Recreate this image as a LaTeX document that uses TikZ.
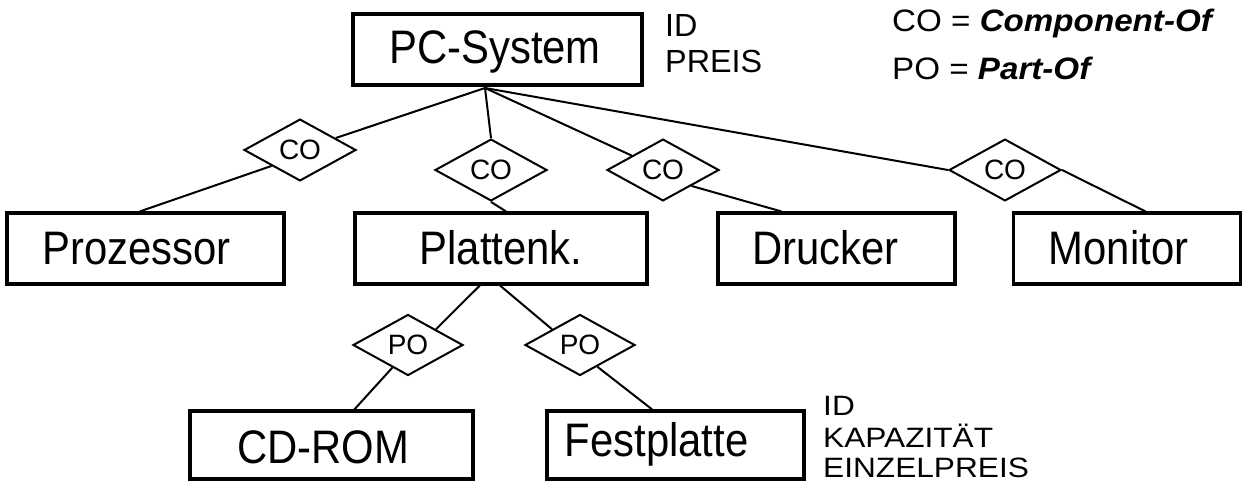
\documentclass[tikz,border=0pt]{standalone}
\usepackage{fontspec}
\setmainfont{Liberation Sans}
\usetikzlibrary{shapes.geometric,calc}
\newcommand\sx[2]{\scalebox{#1}[1]{#2}}
\begin{document}
\begin{tikzpicture}[x=1pt,y=-1pt,
  box/.style={draw, line width=3.2pt, inner sep=0pt, minimum height=71pt},
  big/.style={font=\fontsize{47}{56}\selectfont, anchor=base, inner sep=0pt},
  rel/.style={draw, diamond, line width=2pt, inner sep=0pt, minimum width=112pt, minimum height=57pt, font=\fontsize{28}{32}\selectfont},
  conn/.style={line width=2pt},
  attrtop/.style={font=\fontsize{32}{36}\selectfont, anchor=base west, inner sep=0pt},
  attrbot/.style={font=\fontsize{28}{32}\selectfont, anchor=base west, inner sep=0pt},
  leg/.style={font=\fontsize{31}{35}\selectfont, anchor=base west, inner sep=0pt}]
\useasboundingbox (0,0) rectangle (1248,481);
% boxes
\node[box, minimum width=289pt] (pc) at (497.5,49.5) {};
\node[big] (pct) at (495,64) {\sx{0.89}{PC-System}};
\node[box, minimum width=277pt] (proz) at (145.5,248.5) {};
\node[big] (prozt) at (136.5,265) {\sx{0.89}{Prozessor}};
\node[box, minimum width=292pt] (plat) at (501,248.5) {};
\node[big] (platt) at (501,265) {\sx{0.89}{Plattenk.}};
\node[box, minimum width=237pt] (druck) at (836.5,248.5) {};
\node[big] (druckt) at (825.5,265) {\sx{0.89}{Drucker}};
\node[box, minimum width=227pt] (mon) at (1127,248.5) {};
\node[big] (mont) at (1118.5,265) {\sx{0.89}{Monitor}};
\node[box, minimum width=283pt, minimum height=68pt] (cd) at (331.5,445) {};
\node[big] (cdt) at (323,463) {\sx{0.89}{CD-ROM}};
\node[box, minimum width=257pt, minimum height=68pt] (fest) at (675.5,445) {};
\node[big] (festt) at (656.5,456) {\sx{0.89}{Festplatte}};
% relationships
\node[rel] (co1) at (300,150) {CO};
\node[rel] (co2) at (491,170) {CO};
\node[rel] (co3) at (663,170) {CO};
\node[rel] (co4) at (1005,170) {CO};
\node[rel, minimum width=110pt, minimum height=61pt] (po1) at (408,345) {PO};
\node[rel, minimum width=110pt, minimum height=61pt] (po2) at (580,345) {PO};
% connectors
\coordinate (j) at (485,88);
\draw[conn] (j) -- (co1);
\draw[conn] (co1.south west) -- ($(proz.north west)!0.48!(proz.north east)$);
\draw[conn] (j) -- (co2.north);
\draw[conn] (co2.south) -- ($(plat.north west)!0.517!(plat.north east)$);
\draw[conn] (j) -- (co3);
\draw[conn] (co3.south east) -- ($(druck.north west)!0.27!(druck.north east)$);
\draw[conn] (j) -- (co4.west);
\draw[conn] (co4.east) -- ($(mon.north west)!0.58!(mon.north east)$);
\draw[conn] ($(plat.south west)!0.428!(plat.south east)$) -- (po1.north east);
\draw[conn] ($(po1.west)!0.72!(po1.south)$) -- ($(cd.north west)!0.58!(cd.north east)$);
\draw[conn] ($(plat.south west)!0.497!(plat.south east)$) -- (po2.north west);
\draw[conn] ($(po2.south)!0.31!(po2.east)$) -- ($(fest.north west)!0.41!(fest.north east)$);
% attributes
\node[attrtop] (a1) at (665,37) {\sx{1.01}{ID}};
\node[attrtop] (a2) at (665,73) {\sx{1.01}{PREIS}};
\node[attrbot] (b1) at (823,415) {\sx{1.13}{ID}};
\node[attrbot] (b2) at (823,447) {\sx{1.13}{KAPAZITÄT}};
\node[attrbot] (b3) at (823,477) {\sx{1.13}{EINZELPREIS}};
% legend
\node[leg] (l1) at (892,32) {\sx{1.07}{CO = {\bfseries\itshape Component-Of}}};
\node[leg] (l2) at (892,80) {\sx{1.07}{PO = {\bfseries\itshape Part-Of}}};
\end{tikzpicture}
\end{document}
